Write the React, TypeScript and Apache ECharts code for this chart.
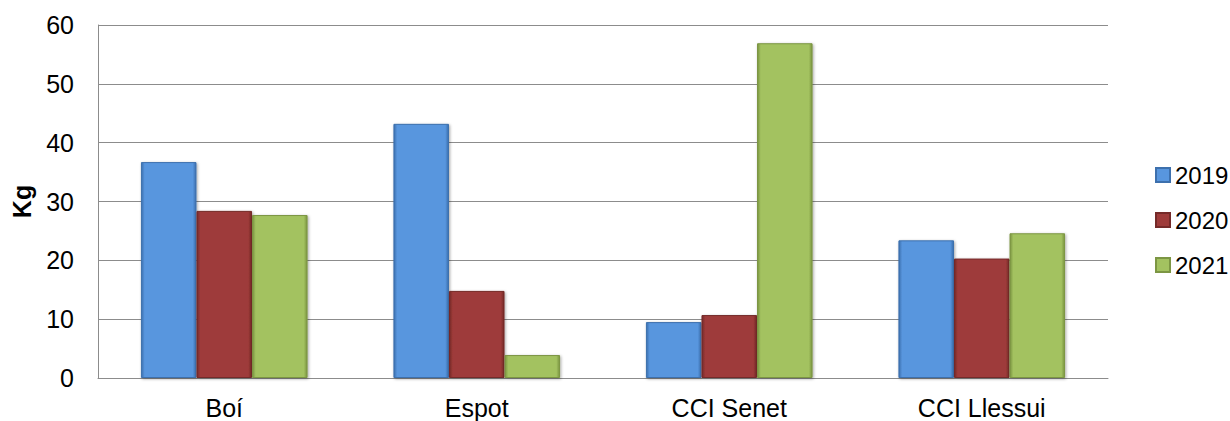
import React, { useEffect, useRef } from "react";
import * as echarts from "echarts";

const categories = ["Boí", "Espot", "CCI Senet", "CCI Llessui"];
const seriesNames = ["2019", "2020", "2021"];
const values2019 = [36.7, 43.2, 9.5, 23.4];
const values2020 = [28.4, 14.8, 10.7, 20.3];
const values2021 = [27.7, 3.9, 56.9, 24.6];
const yTicks = [0, 10, 20, 30, 40, 50, 60];

const palette = [
  { light: "#6ea6e8", main: "#5896de", dark: "#3b6fae", border: "#3d70ad" },
  { light: "#b45250", main: "#9e3b3a", dark: "#742827", border: "#752a29" },
  { light: "#b5d277", main: "#a3c260", dark: "#7a9441", border: "#7c9643" },
];

function barFill(c: { light: string; main: string; dark: string }) {
  return new echarts.graphic.LinearGradient(0, 0, 1, 0, [
    { offset: 0, color: c.dark },
    { offset: 0.06, color: c.main },
    { offset: 0.5, color: c.main },
    { offset: 0.94, color: c.main },
    { offset: 1, color: c.dark },
  ]);
}

export default function App() {
  const ref = useRef<HTMLDivElement>(null);
  useEffect(() => {
    if (!ref.current) return;
    const chart = echarts.init(ref.current, undefined, { renderer: "svg" });
    const data = [values2019, values2020, values2021];
    chart.setOption({
      animation: false,
      textStyle: { fontFamily: "Liberation Sans, Arial, sans-serif" },
      grid: { left: 98, right: 122, top: 25, bottom: 43 },
      legend: {
        orient: "vertical",
        left: 1150,
        top: 158,
        itemWidth: 14,
        itemHeight: 14,
        itemGap: 21,
        icon: "rect",
        textStyle: { fontSize: 24, color: "#000" },
        data: seriesNames,
      },
      xAxis: {
        type: "category",
        data: categories,
        axisLine: { lineStyle: { color: "#8c8c8c", width: 1 } },
        axisTick: { show: false },
        axisLabel: { fontSize: 25, color: "#000", margin: 17 },
      },
      yAxis: {
        type: "value",
        min: yTicks[0],
        max: yTicks[yTicks.length - 1],
        interval: 10,
        name: "Kg",
        nameLocation: "middle",
        nameGap: 64,
        nameRotate: 90,
        nameTextStyle: { fontSize: 25, fontWeight: "bold", color: "#000" },
        axisLine: { show: true, lineStyle: { color: "#8c8c8c", width: 1 } },
        axisTick: { show: false },
        axisLabel: { fontSize: 25, color: "#000", margin: 24 },
        splitLine: { lineStyle: { color: "#8c8c8c", width: 1 } },
      },
      series: seriesNames.map((name, i) => ({
        name,
        type: "bar",
        data: data[i],
        barGap: "0%",
        barCategoryGap: "34%",
        itemStyle: {
          color: barFill(palette[i]),
          borderColor: palette[i].border,
          borderWidth: 1,
          shadowColor: "rgba(0,0,0,0.35)",
          shadowBlur: 3,
          shadowOffsetX: 1,
          shadowOffsetY: 1,
        },
      })),
    });
    return () => chart.dispose();
  }, []);
  return (
    <div
      ref={ref}
      style={{ position: "absolute", left: 0, top: 0, width: 1230, height: 421 }}
    />
  );
}
